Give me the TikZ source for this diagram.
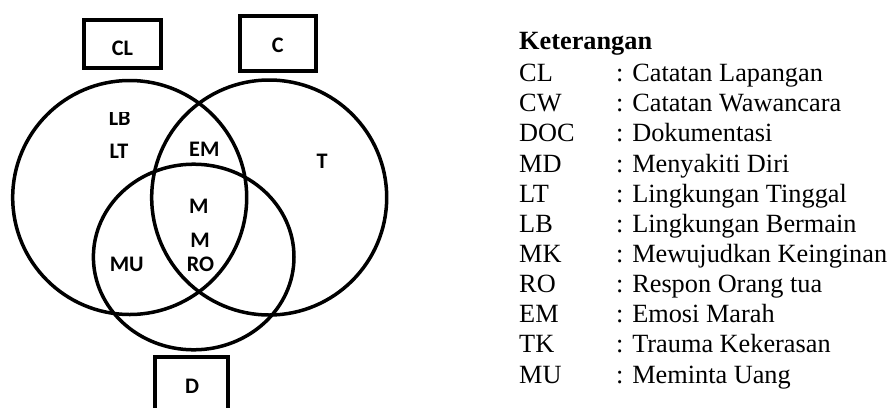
\documentclass[tikz,border=0pt]{standalone}
\usepackage{fontspec}
\setmainfont{Liberation Serif}
\newfontfamily\vennfont{Carlito}
\begin{document}
\begin{tikzpicture}[x=1pt,y=-1pt,
  ring/.style={line width=3.5pt},
  srcbox/.style={line width=3.8pt},
  vlabel/.style={font=\vennfont\bfseries\fontsize{22.2}{24}\selectfont,anchor=base,inner sep=0pt},
  legtxt/.style={font=\fontsize{26.3}{30}\selectfont,anchor=base west,inner sep=0pt}]
\useasboundingbox (0,0) rectangle (890,407);
\clip (0,0) rectangle (890,407);
% three overlapping sets
\draw[ring] (129.7,197.5) circle[radius=117];
\draw[ring] (269.2,197.5) circle[radius=117.5];
\draw[ring] (193.7,257) ellipse[x radius=100.3,y radius=92.8];
% source boxes
\draw[srcbox] (84,20) rectangle (160.7,67.7);
\draw[srcbox] (240.3,16.3) rectangle (315.7,70.7);
\draw[srcbox] (155,420) -- (155,357.3) -- (228.3,357.3) -- (228.3,420);
\node[vlabel] (cl) at (122.5,55.3) {CL};
\node[vlabel] (c) at (277.7,52.7) {C};
\node[vlabel] (d) at (192,393.3) {D};
% region labels
\begin{scope}
  \clip (0,112.5) rectangle (890,407);
  \node[vlabel] (lb) at (119.7,125.5) {LB};
\end{scope}
\node[vlabel] (lt) at (119,158.3) {LT};
\node[vlabel] (em) at (204.3,156.5) {EM};
\node[vlabel] (t) at (322,168.3) {T};
\node[vlabel] (m1) at (198.8,213.3) {M};
\node[vlabel] (m2) at (200,247.3) {M};
\node[vlabel] (ro) at (200.5,271.7) {RO};
\node[vlabel] (mu) at (126.7,271.7) {MU};
% legend
\node[legtxt,font=\fontsize{26.3}{30}\selectfont\bfseries] (ket) at (519,49.3) {Keterangan};
\foreach \ab/\desc [count=\i] in {CL/Catatan Lapangan,CW/Catatan Wawancara,DOC/Dokumentasi,MD/Menyakiti Diri,LT/Lingkungan Tinggal,LB/Lingkungan Bermain,MK/Mewujudkan Keinginan,RO/Respon Orang tua,EM/Emosi Marah,TK/Trauma Kekerasan,MU/Meminta Uang}{
  \node[legtxt] (ab\i) at (519,51.6+30.13*\i) {\ab};
  \node[legtxt] (ds\i) at (616,51.6+30.13*\i) {: \desc};
}
\end{tikzpicture}
\end{document}
